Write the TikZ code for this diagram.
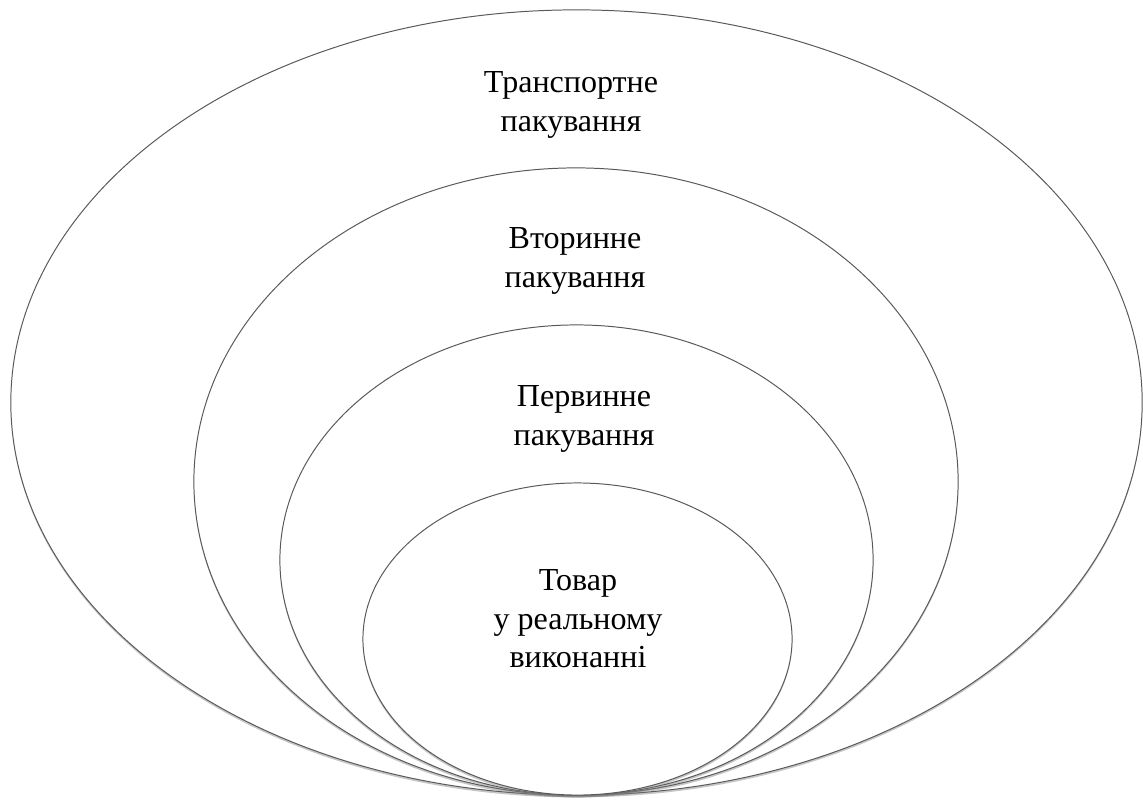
\documentclass[tikz,border=0pt]{standalone}
\usepackage{fontspec}
\setmainfont{Liberation Serif}
\usetikzlibrary{shapes.geometric,shadows}

\tikzset{
    ring/.style={ellipse, draw=black!65, line width=0.7pt, fill=white,
        inner sep=0pt, outer sep=0pt,
        drop shadow={shadow xshift=0pt, shadow yshift=-1.6pt, opacity=0.45}},
    lbl/.style={align=center, inner sep=0pt,
        font=\fontsize{22.8}{27.3}\selectfont}
}

\begin{document}
\begin{tikzpicture}[x=0.025cm, y=-0.025cm]
    \useasboundingbox (0,0) rectangle (1143,800);

    % nested rings, outermost first
    \foreach \n/\cx/\cy/\rx/\ry in {transport/576.5/402.5/565.5/392.5,
                                    secondary/576/481.5/382/313.5,
                                    primary/576.5/560/296.5/235,
                                    goods/577.5/639/214.5/156}
        \node[ring, minimum width={\rx*0.05cm}, minimum height={\ry*0.05cm}] (\n) at (\cx,\cy) {};

    % labels
    \node[lbl] (transportlbl) at (571,105) {Транспортне\\пакування};
    \node[lbl] (secondarylbl) at (575,261) {Вторинне\\пакування};
    \node[lbl] (primarylbl) at (584,419) {Первинне\\пакування};
    \node[lbl] (goodslbl) at (578,619) {Товар\\у реальному\\виконанні};
\end{tikzpicture}
\end{document}
